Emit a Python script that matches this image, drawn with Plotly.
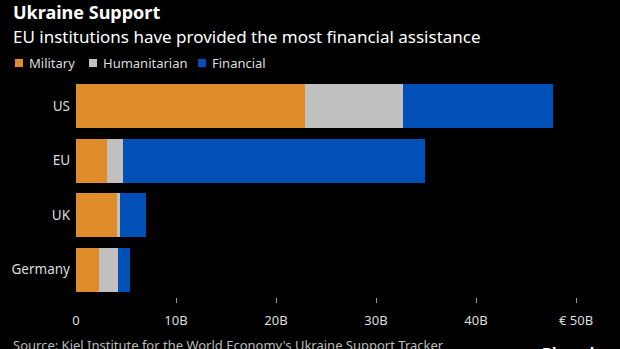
import plotly.graph_objects as go

countries = ["US", "EU", "UK", "Germany"]
military = [22.9, 3.05, 4.1, 2.3]
humanitarian = [9.8, 1.6, 0.3, 1.9]
financial = [15.0, 30.25, 2.6, 1.2]

series_names = ["Military", "Humanitarian", "Financial"]
colors = ["#DF8C2A", "#C0C0C0", "#0050B8"]

tick_vals = [0, 10, 20, 30, 40, 50]
tick_text = ["0", "10B", "20B", "30B", "40B", "€ 50B"]

FONT = "Noto Sans, sans-serif"

W, H = 620, 349
l, r, t, b = 76, 44, 79, 52
pw, ph = W - l - r, H - t - b

fig = go.Figure()
for name, vals, col in zip(series_names, [military, humanitarian, financial], colors):
    fig.add_trace(go.Bar(y=countries, x=vals, name=name, orientation="h",
                         marker=dict(color=col, line=dict(width=0))))


def fx(px):
    return (px - l) / pw


def fy(py):
    return 1 - (py - t) / ph


def ann(text, px, py, size, color, anchor="left"):
    return dict(text=text, x=fx(px), y=fy(py), xref="paper", yref="paper",
                showarrow=False, xanchor=anchor, yanchor="middle",
                font=dict(size=size, color=color, family=FONT))


annotations = [
    ann("<b>Ukraine Support</b>", 11, 12.5, 18, "#FFFFFF"),
    ann("EU institutions have provided the most financial assistance", 11, 36.5, 17, "#FFFFFF"),
    ann("Source: Kiel Institute for the World Economy's Ukraine Support Tracker",
        11, 344.5, 13, "#BBBBBB"),
    ann("<b>Bloomberg</b>", 540, 352, 15, "#FFFFFF"),
]

# manual legend (swatch + label)
legend_x = [15, 89, 198]
shapes = []
for name, col, lx in zip(series_names, colors, legend_x):
    shapes.append(dict(type="rect", xref="paper", yref="paper",
                       x0=fx(lx), x1=fx(lx + 8), y0=fy(67), y1=fy(59),
                       fillcolor=col, line=dict(width=0)))
    annotations.append(ann(name, lx + 12, 63, 13, "#DDDDDD"))

fig.update_layout(
    width=W, height=H,
    barmode="stack", bargap=0.2,
    paper_bgcolor="#000000", plot_bgcolor="#000000",
    margin=dict(l=l, r=r, t=t, b=b, autoexpand=False),
    font=dict(family=FONT, color="#DDDDDD", size=13),
    showlegend=False,
    xaxis=dict(range=[0, 50], tickvals=tick_vals, ticktext=tick_text, automargin=False,
               showgrid=False, zeroline=False, showline=False, ticks="",
               ticklabelstandoff=14,
               tickfont=dict(size=13, color="#DDDDDD"),
               minor=dict(tickvals=[10, 20, 30, 40, 50], ticks="outside",
                          ticklen=5, tickcolor="#999999", tickwidth=1, showgrid=False)),
    yaxis=dict(autorange="reversed", showgrid=False, zeroline=False, showline=False,
               ticks="", ticklabelstandoff=5, automargin=False,
               tickfont=dict(size=13.5, color="#DDDDDD")),
    annotations=annotations,
    shapes=shapes,
)

fig.write_html("out.html")
